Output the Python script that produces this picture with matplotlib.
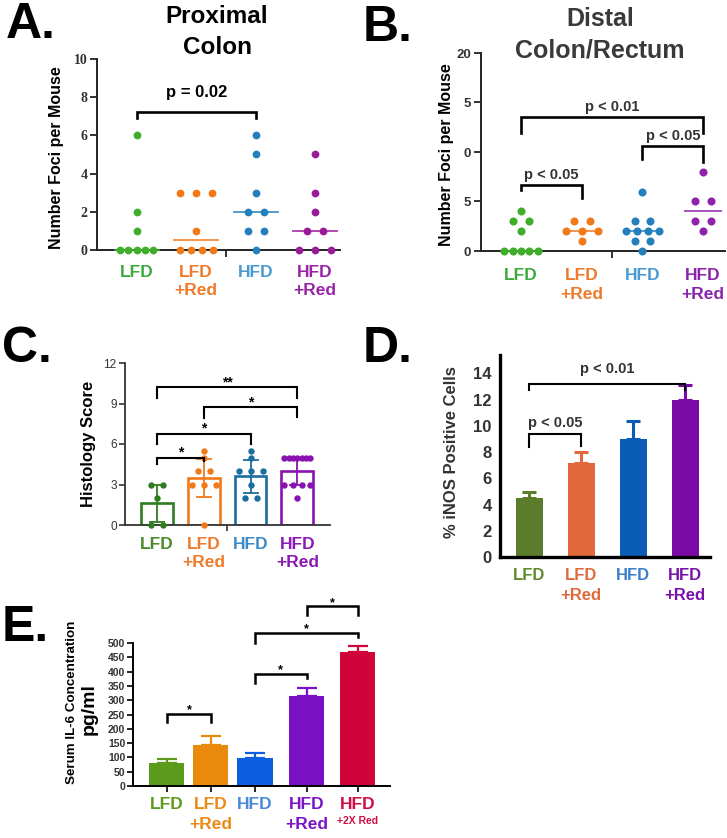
import numpy as np
import matplotlib
matplotlib.use("Agg")
import matplotlib.pyplot as plt
from matplotlib.transforms import blended_transform_factory

# ---------------- data ----------------
groups4 = ["LFD", "LFD\n+Red", "HFD", "HFD\n+Red"]

# Panel A: Proximal colon, foci per mouse
a_lfd = [6, 2, 1, 0, 0, 0, 0, 0]
a_lfd_red = [3, 3, 3, 1, 0, 0, 0, 0]
a_hfd = [6, 5, 3, 2, 2, 1, 1, 0]
a_hfd_red = [5, 3, 2, 1, 1, 0, 0, 0]
a_yticks = [0, 2, 4, 6, 8, 10]

# Panel B: Distal colon/rectum, foci per mouse
b_lfd = [4, 3, 3, 2, 0, 0, 0, 0, 0]
b_lfd_red = [3, 3, 2, 2, 2, 1]
b_hfd = [6, 3, 3, 2, 2, 2, 2, 1, 1, 0]
b_hfd_red = [8, 5, 5, 3, 3, 2]
b_yticks = [0, 5, 10, 15, 20]
b_yticklabels = ["0", "5", "0", "5", "20"]

# Panel C: histology score
c_lfd = [3, 3, 2, 0, 0]
c_lfd_red = [5.5, 5, 4, 4, 3, 3, 3, 0]
c_hfd = [5.5, 5, 4, 4, 4, 3, 2, 2]
c_hfd_red = [5, 5, 5, 5, 5, 5, 5, 3, 3, 3, 3, 2]
c_mean = [1.6, 3.5, 3.6, 4.0]
c_sd = [1.4, 1.4, 1.2, 1.0]
c_yticks = [0, 3, 6, 9, 12]

# Panel D: % iNOS positive cells
d_mean = [4.5, 7.2, 9.0, 12.0]
d_err = [0.45, 0.8, 1.35, 1.1]
d_yticks = [0, 2, 4, 6, 8, 10, 12, 14]

# Panel E: serum IL-6 (pg/ml)
e_groups = ["LFD", "LFD\n+Red", "HFD", "HFD\n+Red", "HFD"]
e_sub = "+2X Red"
e_mean = [82, 145, 97, 314, 469]
e_err = [12, 29, 17, 27, 21]
e_yticks = [0, 50, 100, 150, 200, 250, 300, 350, 400, 450, 500]

# significance annotations: (group1, group2, bar level, tip1, tip2, label, label level)
a_sig = [(0, 2, 7.2, 6.9, 6.9, "p = 0.02", 8.0)]
b_sig = [(0, 1, 6.7, 6.15, 5.4, "p < 0.05", 7.3),
         (2, 3, 10.6, 9.3, 9.0, "p < 0.05", 11.2),
         (0, 3, 13.5, 11.9, 11.9, "p < 0.01", 14.1)]
c_sig = [(0, 1, 5.0, 4.55, 4.75, "*", 5.05),
         (0, 2, 6.77, 6.0, 6.0, "*", 6.82),
         (1, 3, 8.74, 7.9, 8.0, "*", 8.79),
         (0, 3, 10.2, 9.4, 9.4, "**", 10.25)]
d_sig = [(0, 1, 9.36, 8.4, 8.5, "p < 0.05", 9.9),
         (0, 3, 13.17, 12.7, 12.7, "p < 0.01", 14.0)]
e_sig = [(0, 1, 251, 224, 224, "*", 253),
         (2, 3, 393, 360, 379, "*", 395),
         (2, 4, 536, 500, 521, "*", 538),
         (3, 4, 628, 597, 597, "*", 630)]

# ---------------- layout / style ----------------
W, H = 727, 838
plt.rcParams['font.family'] = ['Liberation Sans', 'DejaVu Sans']
fig = plt.figure(figsize=(W / 100, H / 100), dpi=100)


def fy(ypx):
    return 1 - ypx / H


def add_ax(l, t, r, b, xlim, ylim):
    ax = fig.add_axes([l / W, 1 - b / H, (r - l) / W, (b - t) / H])
    ax.set_xlim(*xlim)
    ax.set_ylim(*ylim)
    ax.spines['top'].set_visible(False)
    ax.spines['right'].set_visible(False)
    ax.patch.set_alpha(0)
    return ax


def swarm(vals, d, w):
    vals = np.asarray(vals, float)
    off = np.zeros(len(vals))
    for v in np.unique(vals):
        idx = np.where(vals == v)[0]
        n = len(idx)
        if n > 1:
            sp = min(2 * d, w / (n - 1))
            off[idx] = (np.arange(n) - (n - 1) / 2) * sp
    return off


def cat_labels(ax, xs, texts, colors, base_px, step_px, fs):
    tr = blended_transform_factory(ax.transData, fig.transFigure)
    for x, t, c in zip(xs, texts, colors):
        for k, line in enumerate(t.split("\n")):
            ax.text(x, fy(base_px + k * step_px), line, transform=tr, ha='center',
                    va='baseline', color=c, fontsize=fs, fontweight='bold')


def brackets(ax, xs, sigs, lw, fs, color='black', tcolor='black'):
    for g1, g2, y, t1, t2, lab, ty in sigs:
        x1, x2 = xs[g1], xs[g2]
        ax.plot([x1, x1, x2, x2], [t1, y, y, t2], color=color, lw=lw,
                clip_on=False, solid_joinstyle='miter', zorder=5)
        ax.text((x1 + x2) / 2, ty, lab, ha='center', va='baseline',
                fontsize=fs, fontweight='bold', color=tcolor, clip_on=False)


def panel_letter(x_px, base_px, s):
    fig.text(x_px / W, fy(base_px), s, fontsize=36, fontweight='bold',
             ha='left', va='baseline', color='black')


# ================= Panel A =================
axA = add_ax(97, 59, 340, 250, (-0.67, 3.42), (0, 10))
xA = np.arange(4)
A_data = [a_lfd, a_lfd_red, a_hfd, a_hfd_red]
dotA = ['#3fae2a', '#f07a1a', '#2380bd', '#9b1a9b']
for i, (vals, col) in enumerate(zip(A_data, dotA)):
    off = swarm(vals, 0.135, 0.56)
    axA.plot(xA[i] + off, vals, 'o', ms=5.6, color=col, mec='none', clip_on=False, zorder=4)
    med = np.median(vals)
    axA.plot([xA[i] - 0.37, xA[i] + 0.37], [med, med], color=col, lw=1.3, zorder=3,
             clip_on=False, alpha=0.85)
for s in ['left', 'bottom']:
    axA.spines[s].set_linewidth(1.4)
    axA.spines[s].set_color('#222222')
axA.set_yticks(a_yticks)
axA.set_yticklabels([str(v) for v in a_yticks], fontfamily='Liberation Serif',
                    fontweight='bold', fontsize=10, color='#333333')
axA.set_xticks([1.5])
axA.set_xticklabels([''])
axA.tick_params(axis='both', direction='out', length=5, width=1.3, color='#222222', pad=2)
brackets(axA, xA, a_sig, 1.9, 12)
cat_labels(axA, xA, groups4, ['#3caa3c', '#ee7a2a', '#4a9ad2', '#9a24a8'], 277, 18, 12.5)
fig.text(57 / W, fy(158), "Number Foci per Mouse", rotation=90, ha='center', va='center',
         fontsize=11.5, fontweight='bold')
fig.text(217 / W, fy(23), "Proximal", ha='center', va='baseline', fontsize=17.5, fontweight='bold')
fig.text(217 / W, fy(54), "Colon", ha='center', va='baseline', fontsize=17.5, fontweight='bold')
panel_letter(6, 38, "A.")

# ================= Panel B =================
axB = add_ax(481, 53, 725, 251, (-0.66, 3.36), (0, 20))
xB = np.arange(4)
B_data = [b_lfd, b_lfd_red, b_hfd, b_hfd_red]
dotB = ['#3fae2a', '#f07a1a', '#2380bd', '#8e22aa']
for i, (vals, col) in enumerate(zip(B_data, dotB)):
    off = swarm(vals, 0.13, 0.55)
    axB.plot(xB[i] + off, vals, 'o', ms=5.8, color=col, mec='none', clip_on=False, zorder=4)
    med = np.median(vals)
    axB.plot([xB[i] - 0.3, xB[i] + 0.3], [med, med], color=col, lw=1.3, zorder=3,
             clip_on=False, alpha=0.85)
for s in ['left', 'bottom']:
    axB.spines[s].set_linewidth(1.4)
    axB.spines[s].set_color('#222222')
axB.set_yticks(b_yticks)
axB.set_yticklabels(b_yticklabels, fontweight='bold', fontsize=9.5, color='#333333')
axB.set_xticks([1.5])
axB.set_xticklabels([''])
axB.tick_params(axis='both', direction='out', length=5, width=1.3, color='#222222', pad=2)
brackets(axB, xB, b_sig, 1.9, 10.5, tcolor='#333333')
cat_labels(axB, xB, groups4, ['#3caa3c', '#ee7a2a', '#4a9ad2', '#8a24ac'], 280, 19, 12.5)
fig.text(446 / W, fy(155), "Number Foci per Mouse", rotation=90, ha='center', va='center',
         fontsize=11.5, fontweight='bold')
fig.text(600 / W, fy(26), "Distal", ha='center', va='baseline', fontsize=18, fontweight='bold',
         color='#3a3a3a')
fig.text(600 / W, fy(58), "Colon/Rectum", ha='center', va='baseline', fontsize=18,
         fontweight='bold', color='#3a3a3a')
panel_letter(363, 41, "B.")

# ================= Panel C =================
axC = add_ax(125, 363, 330, 525, (-0.69, 3.70), (0, 12))
xC = np.arange(4)
C_data = [c_lfd, c_lfd_red, c_hfd, c_hfd_red]
colC = ['#2e7d1e', '#f07a1a', '#1a6ea0', '#8a12b0']
for i, (vals, col) in enumerate(zip(C_data, colC)):
    axC.bar(xC[i], c_mean[i], width=0.68, facecolor='white', edgecolor=col, lw=1.9, zorder=1)
    axC.errorbar(xC[i], c_mean[i], yerr=c_sd[i], color=col, capsize=5.5, elinewidth=1.3,
                 capthick=1.3, zorder=2)
    off = swarm(vals, 0.128, 0.56)
    axC.plot(xC[i] + off, vals, 'o', ms=4.6, color=col, mec='none', clip_on=False, zorder=4)
for s in ['left', 'bottom']:
    axC.spines[s].set_linewidth(1.3)
    axC.spines[s].set_color('#333333')
axC.set_yticks(c_yticks)
axC.set_yticklabels([str(v) for v in c_yticks], fontsize=8.5, color='#333333')
axC.set_xticks([1.5])
axC.set_xticklabels([''])
axC.tick_params(axis='both', direction='out', length=4, width=1.2, color='#333333', pad=2)
brackets(axC, xC, c_sig, 1.5, 10)
cat_labels(axC, xC, groups4, ['#4a8c2a', '#ee7c2c', '#3c8ac8', '#8a1ab2'], 549, 18, 12.5)
fig.text(88 / W, fy(444), "Histology Score", rotation=90, ha='center', va='center',
         fontsize=12, fontweight='bold')
panel_letter(2, 362, "C.")

# ================= Panel D =================
axD = add_ax(500, 355, 710, 557, (-0.56, 3.48), (0, 15.4))
xD = np.arange(4)
colD = ['#5b7c2b', '#e0683a', '#0a5cb4', '#7a0aa5']
for i, col in enumerate(colD):
    axD.errorbar(xD[i], d_mean[i], yerr=[[0], [d_err[i]]], color=col, capsize=5,
                 elinewidth=2.2, capthick=2.2, zorder=1)
    axD.bar(xD[i], d_mean[i], width=0.52, color=col, zorder=2)
for s in ['left', 'bottom']:
    axD.spines[s].set_linewidth(2.4)
    axD.spines[s].set_color('black')
axD.set_yticks(d_yticks)
axD.set_yticklabels([str(v) for v in d_yticks], fontweight='bold', fontsize=12, color='#333333')
axD.set_xticks([])
axD.tick_params(axis='y', length=0, pad=6)
brackets(axD, xD, d_sig, 1.5, 10.5, tcolor='#333333')
cat_labels(axD, xD, groups4, ['#5e8a2c', '#e06a3c', '#3a80cc', '#7a12aa'], 580, 20, 12)
fig.text(451 / W, fy(452), "% iNOS Positive Cells", rotation=90, ha='center', va='center',
         fontsize=12, fontweight='bold', color='#333333')
panel_letter(363, 362, "D.")

# ================= Panel E =================
axE = add_ax(133, 643, 390, 786, (-0.77, 5.07), (0, 500))
xE = np.array([0, 1, 2, 3.18, 4.34])
colE = ['#5c9a1c', '#e98a0c', '#0d5fe0', '#7a10c4', '#d0043a']
for i, col in enumerate(colE):
    axE.errorbar(xE[i], e_mean[i], yerr=[[0], [e_err[i]]], color=col, capsize=7,
                 elinewidth=1.6, capthick=1.6, zorder=1)
    axE.bar(xE[i], e_mean[i], width=0.8, color=col, zorder=2)
for s in ['left', 'bottom']:
    axE.spines[s].set_linewidth(1.4)
    axE.spines[s].set_color('black')
axE.set_yticks(e_yticks)
axE.set_yticklabels([str(v) for v in e_yticks], fontweight='bold', fontsize=7.5, color='#333333')
axE.set_xticks(xE)
axE.set_xticklabels([''] * len(xE))
axE.tick_params(axis='both', direction='out', length=4, width=1.2, color='black', pad=1.5)
brackets(axE, xE, e_sig, 1.8, 9)
cat_labels(axE, xE, e_groups, ['#5c9a1e', '#ea8a14', '#4a88d8', '#7a14c4', '#d00c44'], 809, 20, 12.5)
trE = blended_transform_factory(axE.transData, fig.transFigure)
axE.text(xE[4], fy(824), e_sub, transform=trE, ha='center', va='baseline', fontsize=7.5,
         fontweight='bold', color='#d00c44')
fig.text(72 / W, fy(702), "Serum IL-6 Concentration", rotation=90, ha='center', va='center',
         fontsize=9.6, fontweight='bold')
fig.text(89 / W, fy(709), "pg/ml", rotation=90, ha='center', va='center',
         fontsize=14, fontweight='bold')
panel_letter(2, 641, "E.")

fig.savefig("out.png", dpi=100)
